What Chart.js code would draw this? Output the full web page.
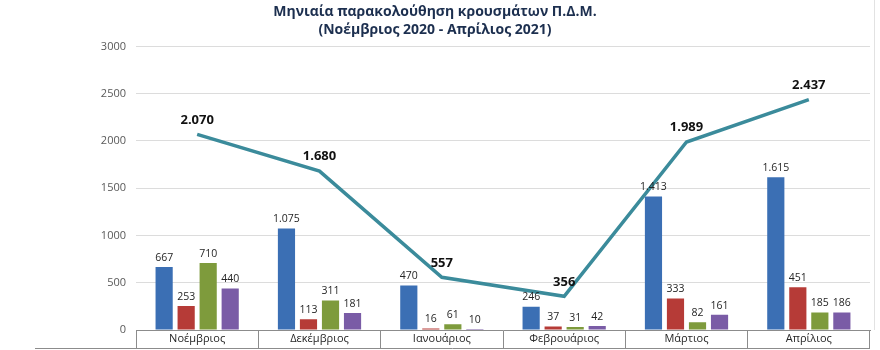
<!DOCTYPE html>
<html lang="el">
<head>
<meta charset="utf-8">
<title>Μηνιαία παρακολούθηση κρουσμάτων Π.Δ.Μ.</title>
<script src="https://cdn.jsdelivr.net/npm/chart.js@4/dist/chart.umd.min.js"></script>
<style>
    html, body { margin: 0; padding: 0; background: #fff; }
    #wrap { width: 880px; height: 350px; position: relative; }
</style>
</head>
<body>
<div id="wrap"><canvas id="casesChart" width="880" height="350"></canvas></div>
<script>
// Months shown on the x axis
const months = ['Νοέμβριος', 'Δεκέμβριος', 'Ιανουάριος', 'Φεβρουάριος', 'Μάρτιος', 'Απρίλιος'];

// Monthly counts per regional unit (four bar series)
const seriesA = [667, 1075, 470, 246, 1413, 1615];
const seriesB = [253, 113, 16, 37, 333, 451];
const seriesC = [710, 311, 61, 31, 82, 185];
const seriesD = [440, 181, 10, 42, 161, 186];

// Monthly total for the region (line)
const totals = [2070, 1680, 557, 356, 1989, 2437];

// Y axis range
const yMin = 0;
const yMax = 3000;
const yStep = 500;

const titleLines = ['Μηνιαία παρακολούθηση κρουσμάτων Π.Δ.Μ.', '(Νοέμβριος 2020 - Απρίλιος 2021)'];

const FONT = "'Open Sans', 'Noto Sans', sans-serif";

// Greek style thousands separator: 1.075
function fmt(v) {
    return v.toLocaleString('el-GR');
}

// Draws value labels above bars and line points
const valueLabels = {
    id: 'valueLabels',
    afterDatasetsDraw(chart) {
        const ctx = chart.ctx;
        ctx.save();
        ctx.textAlign = 'center';
        ctx.textBaseline = 'bottom';
        chart.data.datasets.forEach((ds, i) => {
            const meta = chart.getDatasetMeta(i);
            const isLine = ds.type === 'line';
            ctx.font = isLine ? `bold 13px ${FONT}` : `10.5px ${FONT}`;
            ctx.fillStyle = isLine ? '#111' : '#262626';
            meta.data.forEach((el, j) => {
                const gap = isLine ? 8 : 4;
                ctx.fillText(fmt(ds.data[j]), el.x, el.y - gap);
            });
        });
        ctx.restore();
    }
};

// Box under the axis: bottom edge of the category table and right border
const tableBox = {
    id: 'tableBox',
    afterDraw(chart) {
        const ctx = chart.ctx;
        const x = chart.scales.x;
        const area = chart.chartArea;
        ctx.save();
        ctx.strokeStyle = '#8c8c8c';
        ctx.lineWidth = 1;
        ctx.beginPath();
        ctx.moveTo(35, x.bottom - 1.5);
        ctx.lineTo(x.right, x.bottom - 1.5);
        ctx.stroke();
        ctx.strokeStyle = '#e2e2e2';
        ctx.beginPath();
        ctx.moveTo(area.right + 4.5, 0);
        ctx.lineTo(area.right + 4.5, area.bottom);
        ctx.stroke();
        ctx.restore();
    }
};

const barStyle = { barPercentage: 0.78, categoryPercentage: 0.72 };

new Chart(document.getElementById('casesChart'), {
    type: 'bar',
    data: {
        labels: months,
        datasets: [
            {
                type: 'line',
                label: 'Σύνολο',
                data: totals,
                borderColor: '#3b8b9b',
                borderWidth: 3.5,
                pointRadius: 0,
                tension: 0,
                order: 0
            },
            { label: 'Α', data: seriesA, backgroundColor: '#3b6fb4', ...barStyle, order: 1 },
            { label: 'Β', data: seriesB, backgroundColor: '#b63b37', ...barStyle, order: 1 },
            { label: 'Γ', data: seriesC, backgroundColor: '#7e9b3c', ...barStyle, order: 1 },
            { label: 'Δ', data: seriesD, backgroundColor: '#7a5ca6', ...barStyle, order: 1 }
        ]
    },
    options: {
        responsive: false,
        animation: false,
        layout: { padding: { left: 0, right: 10, top: 3, bottom: 0 } },
        plugins: {
            legend: { display: false },
            tooltip: { enabled: false },
            title: {
                display: true,
                text: titleLines,
                color: '#1c2f4f',
                font: { family: FONT, size: 14, weight: 'bold', lineHeight: 1.3 },
                padding: { top: 0, bottom: 7 }
            }
        },
        scales: {
            x: {
                grid: {
                    offset: true,
                    drawOnChartArea: false,
                    drawTicks: true,
                    tickLength: 18,
                    color: '#8c8c8c'
                },
                border: { display: true, color: '#8c8c8c' },
                ticks: {
                    color: '#262626',
                    font: { family: FONT, size: 11 },
                    padding: -16
                },
                afterFit: s => { s.height = 20; }
            },
            y: {
                min: yMin,
                max: yMax,
                ticks: {
                    stepSize: yStep,
                    color: '#595959',
                    font: { family: FONT, size: 11 },
                    padding: 10,
                    callback: v => String(v)
                },
                grid: { color: '#dcdcdc', drawTicks: false },
                border: { display: false },
                afterFit: s => { s.width = 136; }
            }
        }
    },
    plugins: [valueLabels, tableBox]
});
</script>
</body>
</html>
